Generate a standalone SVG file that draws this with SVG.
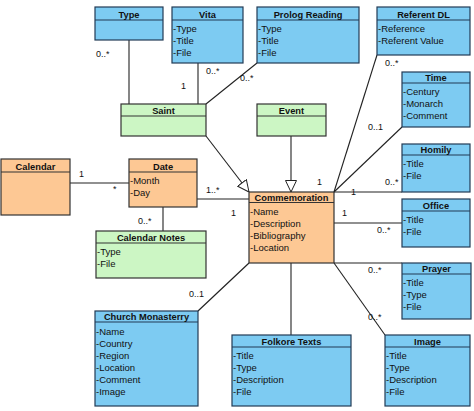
<svg xmlns="http://www.w3.org/2000/svg" width="474" height="411" viewBox="0 0 474 411">
<style>
text{font-family:"Liberation Sans",Arial,sans-serif;fill:#111}
.h{font-size:9.3px;font-weight:bold;text-anchor:middle}
.a{font-size:9.5px}
.l{font-size:9px}
.b{fill:#7dcbf2;stroke:#223b55;stroke-width:1.2}
.g{fill:#ccf6c4;stroke:#333;stroke-width:1.2}
.o{fill:#fdc894;stroke:#333;stroke-width:1.2}
.hl{stroke:#223b55;stroke-width:1.2}
.hk{stroke:#333;stroke-width:1.2}
.c line{stroke:#222;stroke-width:1.1;fill:none}
</style>
<defs>
<marker id="gen" viewBox="0 0 12 12" refX="12" refY="6" markerWidth="12" markerHeight="12" markerUnits="userSpaceOnUse" orient="auto">
<path d="M0.5,0.5 L12,6 L0.5,11.5 z" fill="#fff" stroke="#222" stroke-width="1"/>
</marker>
</defs>
<rect width="474" height="411" fill="#fff"/>
<g class="c" id="connectors">
<line x1="129" y1="40" x2="129" y2="104"/>
<line x1="198" y1="63" x2="198" y2="104"/>
<line x1="206" y1="104" x2="257" y2="63"/>
<line x1="206" y1="136" x2="249" y2="192" marker-end="url(#gen)"/>
<line x1="291" y1="136" x2="291" y2="192" marker-end="url(#gen)"/>
<line x1="70" y1="183" x2="129" y2="183"/>
<line x1="197" y1="199" x2="249" y2="199"/>
<line x1="163" y1="207" x2="163" y2="231"/>
<line x1="377" y1="55" x2="334" y2="192"/>
<line x1="402" y1="127" x2="334" y2="192"/>
<line x1="334" y1="192" x2="402" y2="192"/>
<line x1="334" y1="223" x2="402" y2="223"/>
<line x1="334" y1="263" x2="402" y2="263"/>
<line x1="334" y1="263" x2="385" y2="335"/>
<line x1="291" y1="263" x2="291" y2="335"/>
<line x1="249" y1="263" x2="198" y2="311"/>
</g>
<g id="labels" class="l">
<text x="96" y="57">0..*</text>
<text x="181" y="89">1</text>
<text x="206" y="74">0..*</text>
<text x="240" y="81">0..*</text>
<text x="385" y="66">0..*</text>
<text x="368" y="130">0..1</text>
<text x="79" y="177">1</text>
<text x="113" y="192">*</text>
<text x="206" y="193">1..*</text>
<text x="231" y="216">1</text>
<text x="138" y="224">0..*</text>
<text x="189" y="297">0..1</text>
<text x="317" y="185">1</text>
<text x="351" y="195">1</text>
<text x="385" y="185">0..*</text>
<text x="342" y="216">1</text>
<text x="377" y="233">0..*</text>
<text x="368" y="273">0..*</text>
<text x="368" y="320">0..*</text>
</g>
<g id="type"><rect class="b" x="95" y="7" width="68" height="33"/><line class="hl" x1="95" y1="20" x2="163" y2="20"/><text class="h" x="129" y="18">Type</text></g>
<g id="vita"><rect class="b" x="172" y="7" width="71" height="56"/><line class="hl" x1="172" y1="20" x2="243" y2="20"/><text class="h" x="207.5" y="18">Vita</text>
<text class="a" x="173" y="32">-Type</text><text class="a" x="173" y="44">-Title</text><text class="a" x="173" y="56">-File</text></g>
<g id="prolog"><rect class="b" x="257" y="7" width="102" height="56"/><line class="hl" x1="257" y1="20" x2="359" y2="20"/><text class="h" x="308" y="18">Prolog Reading</text>
<text class="a" x="258" y="32">-Type</text><text class="a" x="258" y="44">-Title</text><text class="a" x="258" y="56">-File</text></g>
<g id="referent"><rect class="b" x="377" y="7" width="93" height="48"/><line class="hl" x1="377" y1="20" x2="470" y2="20"/><text class="h" x="423.5" y="18">Referent DL</text>
<text class="a" x="378" y="32">-Reference</text><text class="a" x="378" y="44">-Referent Value</text></g>
<g id="time"><rect class="b" x="402" y="72" width="68" height="55"/><line class="hl" x1="402" y1="83" x2="470" y2="83"/><text class="h" x="436" y="81">Time</text>
<text class="a" x="403" y="95">-Century</text><text class="a" x="403" y="107">-Monarch</text><text class="a" x="403" y="119">-Comment</text></g>
<g id="saint"><rect class="g" x="121" y="104" width="85" height="32"/><line class="hk" x1="121" y1="116" x2="206" y2="116"/><text class="h" x="163.5" y="114">Saint</text></g>
<g id="event"><rect class="g" x="257" y="104" width="69" height="32"/><line class="hk" x1="257" y1="116" x2="326" y2="116"/><text class="h" x="291.5" y="114">Event</text></g>
<g id="calendar"><rect class="o" x="1" y="159" width="69" height="56"/><line class="hk" x1="1" y1="172" x2="70" y2="172"/><text class="h" x="35.5" y="169.5">Calendar</text></g>
<g id="date"><rect class="o" x="129" y="159" width="68" height="48"/><line class="hk" x1="129" y1="172" x2="197" y2="172"/><text class="h" x="163" y="169.5">Date</text>
<text class="a" x="130" y="184">-Month</text><text class="a" x="130" y="196">-Day</text></g>
<g id="calnotes"><rect class="g" x="96" y="231" width="110" height="47"/><line class="hk" x1="96" y1="243" x2="206" y2="243"/><text class="h" x="151" y="241">Calendar Notes</text>
<text class="a" x="97" y="255">-Type</text><text class="a" x="97" y="267">-File</text></g>
<g id="commemoration"><rect class="o" x="249" y="192" width="85" height="71"/><line class="hk" x1="249" y1="202.5" x2="334" y2="202.5"/><text class="h" x="291.5" y="201">Commemoration</text>
<text class="a" x="250" y="214.5">-Name</text><text class="a" x="250" y="226.5">-Description</text><text class="a" x="250" y="238.5">-Bibliography</text><text class="a" x="250" y="250.5">-Location</text></g>
<g id="homily"><rect class="b" x="402" y="144" width="68" height="48"/><line class="hl" x1="402" y1="155" x2="470" y2="155"/><text class="h" x="436" y="153">Homily</text>
<text class="a" x="403" y="167">-Title</text><text class="a" x="403" y="179">-File</text></g>
<g id="office"><rect class="b" x="402" y="199" width="68" height="48"/><line class="hl" x1="402" y1="211" x2="470" y2="211"/><text class="h" x="436" y="209">Office</text>
<text class="a" x="403" y="223">-Title</text><text class="a" x="403" y="235">-File</text></g>
<g id="prayer"><rect class="b" x="402" y="263" width="69" height="56"/><line class="hl" x1="402" y1="274" x2="471" y2="274"/><text class="h" x="436.5" y="272">Prayer</text>
<text class="a" x="403" y="286">-Title</text><text class="a" x="403" y="298">-Type</text><text class="a" x="403" y="310">-File</text></g>
<g id="church"><rect class="b" x="95" y="311" width="103" height="95"/><line class="hl" x1="95" y1="322" x2="198" y2="322"/><text class="h" x="146.5" y="320">Church Monasterry</text>
<text class="a" x="96" y="335">-Name</text><text class="a" x="96" y="347">-Country</text><text class="a" x="96" y="359">-Region</text><text class="a" x="96" y="371">-Location</text><text class="a" x="96" y="383">-Comment</text><text class="a" x="96" y="395">-Image</text></g>
<g id="folkore"><rect class="b" x="232" y="335" width="119" height="71"/><line class="hl" x1="232" y1="347" x2="351" y2="347"/><text class="h" x="291.5" y="345">Folkore Texts</text>
<text class="a" x="233" y="359">-Title</text><text class="a" x="233" y="371">-Type</text><text class="a" x="233" y="383">-Description</text><text class="a" x="233" y="395">-File</text></g>
<g id="image"><rect class="b" x="385" y="335" width="85" height="71"/><line class="hl" x1="385" y1="347" x2="470" y2="347"/><text class="h" x="427.5" y="345">Image</text>
<text class="a" x="386" y="359">-Title</text><text class="a" x="386" y="371">-Type</text><text class="a" x="386" y="383">-Description</text><text class="a" x="386" y="395">-File</text></g>
</svg>
